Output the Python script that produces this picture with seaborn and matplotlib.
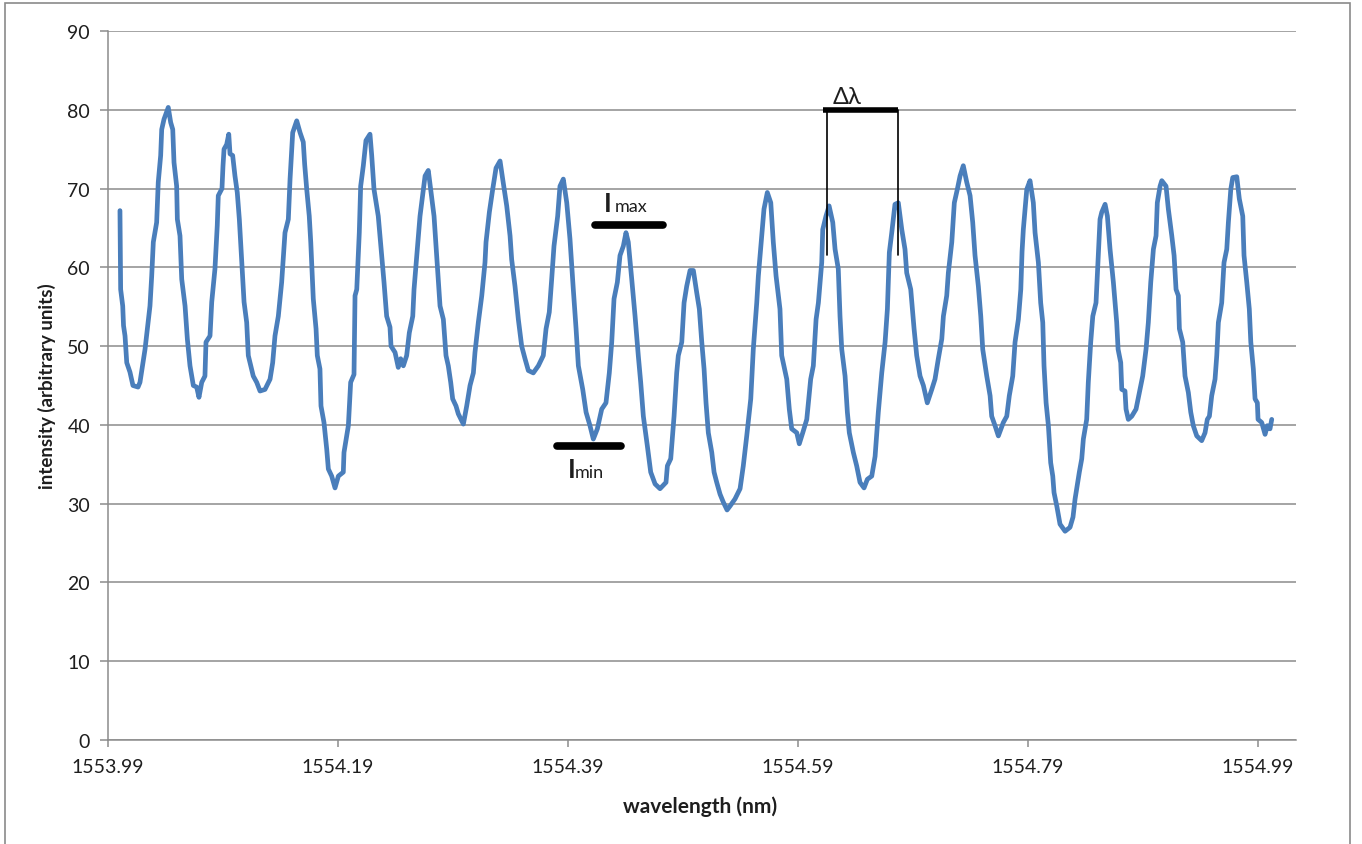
import matplotlib
matplotlib.use("Agg")
import matplotlib.pyplot as plt
from matplotlib.patches import Rectangle
import pandas as pd
import seaborn as sns

# Measured transmission spectrum (wavelength in nm, intensity in arbitrary units)
wavelength = [
    1554.0004, 1554.0010, 1554.0028, 1554.0035, 1554.0048, 1554.0063, 1554.0091, 1554.0117, 1554.0161, 1554.0178,
    1554.0222, 1554.0265, 1554.0280, 1554.0294, 1554.0323, 1554.0337, 1554.0358, 1554.0367, 1554.0387, 1554.0424,
    1554.0445, 1554.0463, 1554.0474, 1554.0497, 1554.0503, 1554.0526, 1554.0541, 1554.0570, 1554.0590, 1554.0613,
    1554.0642, 1554.0671, 1554.0691, 1554.0715, 1554.0743, 1554.0752, 1554.0787, 1554.0802, 1554.0830, 1554.0850,
    1554.0859, 1554.0891, 1554.0900, 1554.0909, 1554.0932, 1554.0950, 1554.0961, 1554.0984, 1554.1004, 1554.1024,
    1554.1042, 1554.1063, 1554.1083, 1554.1106, 1554.1120, 1554.1163, 1554.1193, 1554.1222, 1554.1265, 1554.1309,
    1554.1332, 1554.1352, 1554.1381, 1554.1410, 1554.1439, 1554.1468, 1554.1483, 1554.1506, 1554.1541, 1554.1570,
    1554.1598, 1554.1610, 1554.1628, 1554.1650, 1554.1663, 1554.1671, 1554.1685, 1554.1709, 1554.1720, 1554.1743,
    1554.1752, 1554.1778, 1554.1802, 1554.1816, 1554.1845, 1554.1874, 1554.1903, 1554.1946, 1554.1952, 1554.1990,
    1554.2010, 1554.2039, 1554.2048, 1554.2063, 1554.2085, 1554.2097, 1554.2120, 1554.2143, 1554.2178, 1554.2193,
    1554.2213, 1554.2250, 1554.2280, 1554.2300, 1554.2323, 1554.2352, 1554.2361, 1554.2396, 1554.2424, 1554.2445,
    1554.2468, 1554.2497, 1554.2520, 1554.2550, 1554.2561, 1554.2590, 1554.2613, 1554.2642, 1554.2657, 1554.2685,
    1554.2706, 1554.2735, 1554.2764, 1554.2787, 1554.2816, 1554.2839, 1554.2859, 1554.2880, 1554.2897, 1554.2926,
    1554.2946, 1554.2990, 1554.3019, 1554.3048, 1554.3077, 1554.3091, 1554.3120, 1554.3150, 1554.3178, 1554.3187,
    1554.3216, 1554.3245, 1554.3274, 1554.3309, 1554.3332, 1554.3367, 1554.3396, 1554.3410, 1554.3439, 1554.3468,
    1554.3497, 1554.3526, 1554.3555, 1554.3598, 1554.3642, 1554.3685, 1554.3709, 1554.3737, 1554.3758, 1554.3778,
    1554.3810, 1554.3830, 1554.3859, 1554.3889, 1554.3917, 1554.3946, 1554.3970, 1554.3990, 1554.4028, 1554.4057,
    1554.4091, 1554.4120, 1554.4155, 1554.4193, 1554.4230, 1554.4259, 1554.4280, 1554.4300, 1554.4329, 1554.4352,
    1554.4381, 1554.4404, 1554.4424, 1554.4454, 1554.4483, 1554.4511, 1554.4532, 1554.4555, 1554.4590, 1554.4619,
    1554.4657, 1554.4700, 1554.4752, 1554.4764, 1554.4793, 1554.4822, 1554.4845, 1554.4859, 1554.4889, 1554.4909,
    1554.4932, 1554.4961, 1554.4990, 1554.5019, 1554.5042, 1554.5063, 1554.5083, 1554.5100, 1554.5120, 1554.5150,
    1554.5170, 1554.5193, 1554.5222, 1554.5250, 1554.5283, 1554.5309, 1554.5352, 1554.5396, 1554.5424, 1554.5454,
    1554.5489, 1554.5511, 1554.5541, 1554.5555, 1554.5584, 1554.5604, 1554.5633, 1554.5663, 1554.5685, 1554.5709,
    1554.5743, 1554.5758, 1554.5802, 1554.5824, 1554.5845, 1554.5889, 1554.5911, 1554.5941, 1554.5976, 1554.6010,
    1554.6033, 1554.6057, 1554.6077, 1554.6106, 1554.6115, 1554.6143, 1554.6170, 1554.6202, 1554.6222, 1554.6250,
    1554.6265, 1554.6280, 1554.6309, 1554.6329, 1554.6346, 1554.6381, 1554.6410, 1554.6439, 1554.6474, 1554.6503,
    1554.6541, 1554.6570, 1554.6598, 1554.6628, 1554.6657, 1554.6677, 1554.6694, 1554.6715, 1554.6743, 1554.6772,
    1554.6802, 1554.6830, 1554.6845, 1554.6880, 1554.6909, 1554.6932, 1554.6961, 1554.6990, 1554.7024, 1554.7063,
    1554.7091, 1554.7120, 1554.7150, 1554.7164, 1554.7193, 1554.7207, 1554.7237, 1554.7259, 1554.7285, 1554.7309,
    1554.7337, 1554.7367, 1554.7396, 1554.7419, 1554.7439, 1554.7468, 1554.7489, 1554.7506, 1554.7541, 1554.7570,
    1554.7584, 1554.7613, 1554.7642, 1554.7685, 1554.7715, 1554.7737, 1554.7767, 1554.7787, 1554.7816, 1554.7837,
    1554.7848, 1554.7859, 1554.7889, 1554.7917, 1554.7946, 1554.7961, 1554.7990, 1554.8010, 1554.8028, 1554.8039,
    1554.8057, 1554.8077, 1554.8097, 1554.8115, 1554.8126, 1554.8150, 1554.8178, 1554.8222, 1554.8265, 1554.8291,
    1554.8309, 1554.8346, 1554.8367, 1554.8381, 1554.8410, 1554.8424, 1554.8445, 1554.8463, 1554.8491, 1554.8511,
    1554.8526, 1554.8541, 1554.8570, 1554.8590, 1554.8613, 1554.8642, 1554.8671, 1554.8683, 1554.8706, 1554.8715,
    1554.8743, 1554.8752, 1554.8772, 1554.8802, 1554.8839, 1554.8874, 1554.8897, 1554.8926, 1554.8946, 1554.8967,
    1554.8990, 1554.9013, 1554.9024, 1554.9048, 1554.9063, 1554.9100, 1554.9120, 1554.9150, 1554.9170, 1554.9187,
    1554.9207, 1554.9216, 1554.9245, 1554.9265, 1554.9294, 1554.9315, 1554.9337, 1554.9367, 1554.9410, 1554.9439,
    1554.9459, 1554.9477, 1554.9497, 1554.9526, 1554.9541, 1554.9555, 1554.9584, 1554.9604, 1554.9628, 1554.9642,
    1554.9663, 1554.9680, 1554.9715, 1554.9737, 1554.9767, 1554.9778, 1554.9802, 1554.9824, 1554.9837, 1554.9859,
    1554.9874, 1554.9894, 1554.9900, 1554.9932, 1554.9961, 1554.9981, 1555.0004, 1555.0019,
]

intensity = [
    67.2, 57.2, 55.1, 52.6, 51.3, 47.9, 46.7, 45.0, 44.8, 45.4,
    49.6, 55.1, 58.9, 63.2, 65.7, 70.8, 74.2, 77.5, 78.8, 80.3,
    78.4, 77.5, 73.3, 70.3, 66.1, 64.0, 58.5, 55.1, 50.9, 47.5,
    45.0, 44.8, 43.5, 45.4, 46.2, 50.5, 51.3, 55.6, 59.8, 65.3,
    69.1, 70.0, 72.9, 75.0, 75.6, 76.9, 74.4, 74.2, 71.6, 69.5,
    66.1, 60.6, 55.6, 53.0, 48.8, 46.2, 45.4, 44.3, 44.5, 45.8,
    47.9, 51.3, 53.8, 58.1, 64.4, 66.1, 71.2, 77.1, 78.6, 77.1,
    75.9, 73.1, 69.9, 66.5, 63.2, 60.6, 56.0, 52.2, 48.8, 47.1,
    42.4, 40.3, 36.9, 34.4, 33.5, 32.0, 33.5, 34.0, 36.5, 39.9,
    45.4, 46.4, 56.4, 57.2, 64.4, 70.3, 72.9, 76.1, 76.9, 74.2,
    69.9, 66.5, 61.5, 58.1, 53.8, 52.4, 50.0, 49.2, 47.3, 48.4,
    47.5, 48.8, 51.7, 53.8, 57.2, 62.3, 66.5, 69.9, 71.6, 72.3,
    69.9, 66.5, 60.2, 55.1, 53.4, 48.8, 47.5, 45.4, 43.3, 42.4,
    41.4, 40.1, 42.4, 45.0, 46.6, 49.2, 53.0, 56.4, 60.6, 63.2,
    67.0, 69.9, 72.6, 73.5, 71.2, 67.8, 64.0, 61.0, 57.6, 53.4,
    50.0, 48.4, 46.9, 46.6, 47.5, 48.8, 52.2, 54.3, 58.5, 62.7,
    66.5, 70.3, 71.2, 68.2, 63.6, 57.2, 52.2, 47.5, 44.5, 41.6,
    39.9, 38.2, 39.5, 42.0, 42.8, 46.6, 50.5, 56.0, 58.1, 61.5,
    62.7, 64.4, 63.2, 58.5, 53.8, 48.8, 45.4, 41.1, 37.3, 34.0,
    32.5, 31.9, 32.7, 34.8, 35.7, 41.1, 46.6, 48.8, 50.5, 55.5,
    57.6, 59.6, 59.6, 56.8, 54.7, 50.5, 47.1, 42.8, 39.0, 36.5,
    34.0, 32.7, 31.2, 30.2, 29.2, 29.7, 30.6, 31.9, 34.8, 38.6,
    43.3, 49.6, 55.5, 58.9, 64.0, 67.4, 69.5, 68.2, 63.2, 58.9,
    54.7, 48.8, 45.8, 42.0, 39.5, 39.0, 37.6, 39.0, 40.7, 45.8,
    47.5, 53.4, 55.5, 60.6, 64.8, 66.5, 67.8, 65.7, 62.3, 59.8,
    53.8, 49.6, 46.2, 41.6, 39.0, 36.5, 34.8, 32.7, 32.0, 33.1,
    33.5, 36.0, 41.6, 46.6, 50.5, 54.7, 61.9, 64.4, 68.0, 68.2,
    64.8, 62.3, 59.3, 57.2, 52.2, 48.8, 46.2, 45.0, 42.8, 44.5,
    45.8, 48.4, 50.9, 53.8, 56.4, 59.3, 63.2, 68.2, 69.9, 71.6,
    72.9, 70.8, 69.1, 65.7, 61.5, 57.6, 53.8, 49.6, 46.2, 43.7,
    41.1, 39.9, 38.6, 40.3, 41.1, 43.7, 46.2, 50.5, 53.4, 57.2,
    62.0, 64.8, 69.9, 71.0, 68.2, 64.4, 60.6, 55.5, 53.0, 47.5,
    42.8, 39.9, 35.2, 33.5, 31.4, 29.7, 27.4, 26.5, 27.0, 28.3,
    30.6, 34.0, 35.7, 38.2, 40.7, 45.4, 50.5, 53.8, 55.5, 61.5,
    66.1, 67.0, 68.0, 66.5, 62.3, 58.1, 53.0, 49.6, 47.9, 44.5,
    44.3, 42.0, 40.7, 41.1, 42.0, 44.5, 46.2, 49.6, 53.0, 58.1,
    62.3, 64.0, 68.2, 70.3, 71.0, 70.3, 67.4, 64.0, 61.5, 57.2,
    56.4, 52.2, 50.5, 46.2, 44.1, 41.6, 39.9, 38.6, 38.0, 39.0,
    40.7, 41.1, 43.7, 45.8, 48.8, 53.0, 55.5, 60.6, 62.3, 65.7,
    69.9, 71.4, 71.5, 68.7, 66.5, 61.5, 58.1, 54.7, 50.5, 47.1,
    43.3, 42.8, 40.7, 40.3, 38.8, 39.9, 39.5, 40.7,
]

x_ticks = [1553.99, 1554.19, 1554.39, 1554.59, 1554.79, 1554.99]
y_ticks = [0, 10, 20, 30, 40, 50, 60, 70, 80, 90]

# Annotation markers: maximum / minimum levels and fringe spacing
imax_level, imax_span = 65.4, (1554.4135, 1554.4726)
imin_level, imin_span = 37.3, (1554.3804, 1554.4361)
fsr_level, fsr_peaks = 80.0, (1554.6152, 1554.6766)
fsr_bar_span = (1554.6117, 1554.6770)
fsr_drop_to = 61.6

LINE_BLUE = "#4A7EBB"
GRID_GRAY = "#8C8C8C"
TEXT = "#1E1E1E"

sns.set_theme(style="white")
plt.rcParams["font.family"] = ["Lato", "DejaVu Sans"]

df = pd.DataFrame({"wavelength": wavelength, "intensity": intensity})

W, H = 1362, 845
fig = plt.figure(figsize=(W / 100, H / 100), dpi=100)
ax = fig.add_axes([108 / W, 1 - 741 / H, (1296 - 108) / W, (741 - 32) / H])

sns.lineplot(data=df, x="wavelength", y="intensity", sort=False, estimator=None,
             color=LINE_BLUE, linewidth=3.4, ax=ax, zorder=3)

ax.set_xlim(1553.99, 1555.023)
ax.set_ylim(0, 90)
ax.set_xticks(x_ticks)
ax.set_xticklabels([f"{v:.2f}" for v in x_ticks])
ax.set_yticks(y_ticks)

ax.grid(axis="y", color=GRID_GRAY, linewidth=1.1)
ax.grid(axis="x", visible=False)
ax.set_axisbelow(True)

for side in ("top", "right"):
    ax.spines[side].set_visible(False)
for side in ("left", "bottom"):
    ax.spines[side].set_color(GRID_GRAY)
    ax.spines[side].set_linewidth(1.1)

ax.tick_params(axis="x", direction="out", length=5, width=1.1, color=GRID_GRAY,
               labelsize=14, labelcolor=TEXT, pad=8, bottom=True)
ax.tick_params(axis="y", direction="out", length=6, width=1.1, color=GRID_GRAY,
               labelsize=14, labelcolor=TEXT, pad=7, left=True)

ax.set_xlabel("")
ax.set_ylabel("")
fig.text(700 / W, 1 - 807 / H, "wavelength (nm)", fontsize=15, fontweight="bold",
         color=TEXT, ha="center", va="center")
fig.text(47 / W, 1 - 386 / H, "intensity (arbitrary units)", fontsize=13.5,
         fontweight="bold", color=TEXT, ha="center", va="center", rotation=90)

# I_max marker
ax.plot(imax_span, [imax_level, imax_level], color="black", linewidth=5.5,
        solid_capstyle="round", zorder=4)
ax.text(1554.4213, 67.1, "I", fontsize=19, fontweight="bold", color=TEXT,
        va="baseline", ha="left", zorder=5)
ax.annotate("max", xy=(1554.4213, 67.1), xytext=(7.5, 0), textcoords="offset points",
            fontsize=13, color=TEXT, va="baseline", ha="left", zorder=5)

# I_min marker
ax.plot(imin_span, [imin_level, imin_level], color="black", linewidth=5.5,
        solid_capstyle="round", zorder=4)
ax.text(1554.3900, 33.4, "I", fontsize=19, fontweight="bold", color=TEXT,
        va="baseline", ha="left", zorder=5)
ax.annotate("min", xy=(1554.3900, 33.4), xytext=(5, 0), textcoords="offset points",
            fontsize=13, color=TEXT, va="baseline", ha="left", zorder=5)

# Fringe spacing bracket
ax.plot(fsr_bar_span, [fsr_level, fsr_level], color="black", linewidth=4,
        solid_capstyle="butt", zorder=4)
for xp in fsr_peaks:
    ax.plot([xp, xp], [fsr_level, fsr_drop_to], color="black", linewidth=1.2, zorder=4)
ax.text(1554.6204, 80.8, "Δλ", fontsize=17, color=TEXT, va="baseline", ha="left",
        family=["Lato", "DejaVu Sans"], zorder=5)

# Chart-area frame
fig.patches.append(Rectangle((5 / W, -0.01), (1350 - 5) / W, 1.01 - 4 / H,
                             transform=fig.transFigure, fill=False,
                             edgecolor="#8A8A8A", linewidth=1.2))

fig.savefig("out.png", dpi=100)
